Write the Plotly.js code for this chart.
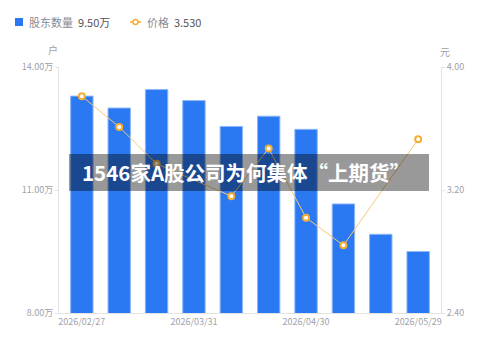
<!DOCTYPE html>
<html><head><meta charset="utf-8">
<script src="https://cdn.plot.ly/plotly-3.0.1.min.js"></script>
<style>html,body{margin:0;padding:0;background:#fff;}#c{width:500px;height:346px;}</style>
</head><body><div id="c"></div>
<script>
const dates = ["2026/02/27","2026/03/10","2026/03/20","2026/03/31","2026/04/10","2026/04/20","2026/04/30","2026/05/10","2026/05/20","2026/05/29"];
const holders = [13.29, 13.00, 13.45, 13.18, 12.55, 12.80, 12.48, 10.66, 9.92, 9.50];
const price = [3.81, 3.61, 3.37, null, 3.16, 3.47, 3.02, 2.84, null, 3.53];
const tickDates = ["2026/02/27","2026/03/31","2026/04/30","2026/05/29"];
const leftTicks = [8, 11, 14];
const leftTickText = ["8.00万","11.00万","14.00万"];
const rightTicks = [2.4, 3.2, 4.0];
const rightTickText = ["2.40","3.20","4.00"];
const headline = "1546家A股公司为何集体“上期货”";

const font = "Noto Sans CJK SC, Noto Sans, sans-serif";
const P = {xref:"paper", yref:"paper", xsizemode:"pixel", ysizemode:"pixel", xanchor:0, yanchor:1};
const traces = [
  {type:"bar", x:dates, y:holders, marker:{color:"#2a78f2", line:{color:"#8db8f7", width:1}}, width:0.6, yaxis:"y", hoverinfo:"skip"},
  {type:"scatter", mode:"lines+markers", x:dates, y:price, yaxis:"y2", connectgaps:true,
   line:{color:"#f8c777", width:1}, marker:{symbol:"circle", size:6, color:"#fff", line:{color:"#f6ad33", width:2}}, hoverinfo:"skip"}
];
const layout = {
  width:500, height:346, margin:{l:59, r:59, t:67, b:33},
  paper_bgcolor:"#fff", plot_bgcolor:"#fff", showlegend:false, bargap:0.4,
  font:{family:font, color:"#999"},
  xaxis:{type:"category", tickvals:tickDates, ticktext:tickDates, showgrid:false, showline:true, linecolor:"#e3e3e3", linewidth:1,
    ticks:"", tickfont:{size:9, color:"#a0a0a8"}, zeroline:false},
  yaxis:{range:[8,14], tickvals:leftTicks, ticktext:leftTickText, showgrid:false, showline:true, linecolor:"#e3e3e3",
    ticks:"outside", ticklen:3, tickcolor:"#e3e3e3", tickfont:{size:9, color:"#a0a0a8"}, zeroline:false},
  yaxis2:{range:[2.4,4.0], overlaying:"y", side:"right", tickvals:rightTicks, ticktext:rightTickText, showgrid:false, showline:true,
    linecolor:"#e3e3e3", ticks:"outside", ticklen:3, tickcolor:"#e3e3e3", tickfont:{size:9, color:"#a0a0a8"}, zeroline:false},
  shapes:[
    Object.assign({type:"rect", x0:-44, x1:-36, y0:41, y1:49, fillcolor:"#2a78f2", line:{width:0}}, P),
    Object.assign({type:"line", x0:71, x1:82, y0:45, y1:45, line:{color:"#f6ad33", width:1.5}}, P),
    Object.assign({type:"circle", x0:74, x1:79, y0:42.5, y1:47.5, fillcolor:"#fff", line:{color:"#f6ad33", width:1.5}}, P),
    Object.assign({type:"rect", x0:10, x1:370, y0:-87, y1:-124, fillcolor:"rgba(0,0,0,0.4)", line:{width:0}}, P)
  ],
  annotations:[
    {xref:"paper", yref:"paper", x:-0.083, y:1.0, yshift:45, xanchor:"left", yanchor:"middle", showarrow:false,
     text:"<span style='color:#8a8a94'>股东数量</span>  <span style='color:#555'>9.50万</span>", font:{size:11, family:font}},
    {xref:"paper", yref:"paper", x:0.226, y:1.0, yshift:45, xanchor:"left", yanchor:"middle", showarrow:false,
     text:"<span style='color:#8a8a94'>价格</span>  <span style='color:#555'>3.530</span>", font:{size:11, family:font}},
    {xref:"paper", yref:"paper", x:-0.015, y:1.0, yshift:18, xanchor:"center", yanchor:"middle", showarrow:false, text:"户", font:{size:10, color:"#a0a0a8", family:font}},
    {xref:"paper", yref:"paper", x:1.01, y:1.0, yshift:16, xanchor:"center", yanchor:"middle", showarrow:false, text:"元", font:{size:10, color:"#a0a0a8", family:font}},
    {xref:"paper", yref:"paper", x:(246-59)/382, y:1.0, yshift:-105, xanchor:"center", yanchor:"middle", showarrow:false, text:"<b>"+headline+"</b>", font:{size:20.5, color:"#fff", family:font}}
  ]
};
Plotly.newPlot("c", traces, layout, {displayModeBar:false, staticPlot:true});
</script></body></html>
